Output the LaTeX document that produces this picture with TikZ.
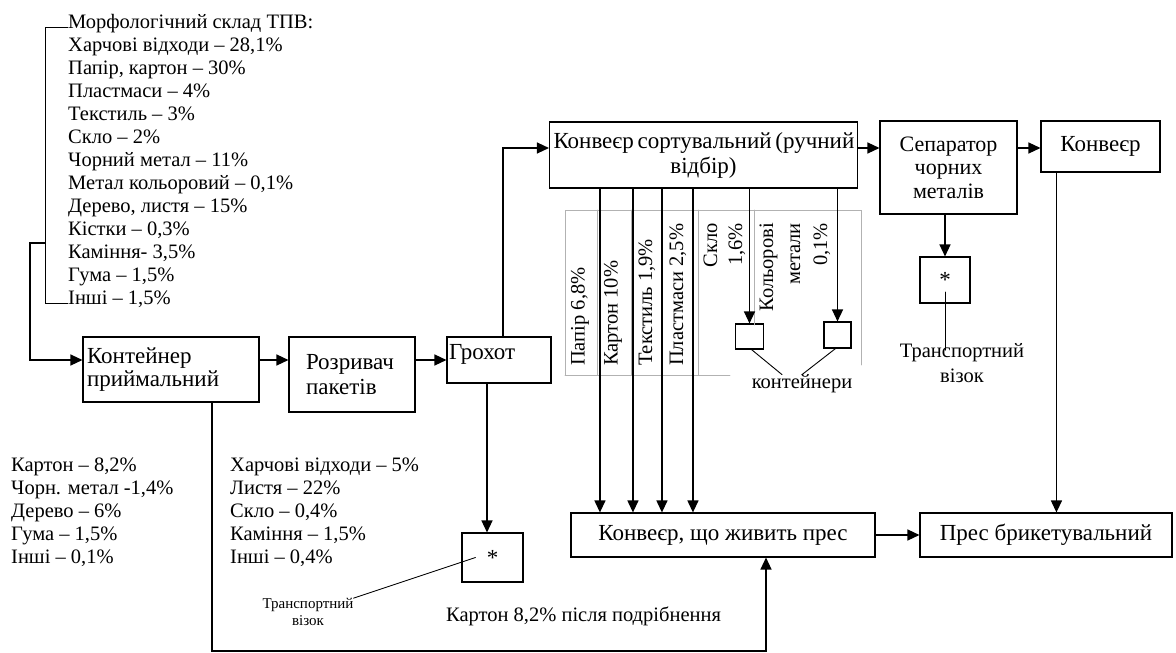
\documentclass[tikz,border=0pt]{standalone}
\usepackage{fontspec}
\setmainfont{Liberation Serif}
\usetikzlibrary{arrows.meta, positioning}

\begin{document}
\begin{tikzpicture}
% Style
[
    x=1pt, y=-1pt, line cap=round,
    every node/.style={font=\fontsize{20.5}{23}\selectfont, inner sep=0pt},
    block/.style={draw, line width=1.1pt, inner sep=4pt, font=\fontsize{23}{23}\selectfont},
    flow/.style={line width=1.3pt, -{Triangle[length=12pt,width=11pt]}},
    lead/.style={line width=0.9pt},
    cell/.style={draw=black!30, line width=0.8pt},
    vtext/.style={rotate=90},
    small text/.style={font=\fontsize{15}{17}\selectfont}
]

\useasboundingbox (0,0) rectangle (1176,653);

%================================== Blocks ==================================
{
    % Draw: reception line
    \node[block, minimum width=176pt, minimum height=65pt, text width=168pt, align=left] (cont) at (171,369.5) {Контейнер\\приймальний};
    \node[block, minimum width=126pt, minimum height=75pt, text width=92pt, align=left, font=\fontsize{23}{25}\selectfont] (rozr) at (352,374.5) {Розривач\\пакетів};
    \node[block, inner xsep=2pt, minimum width=104pt, minimum height=46pt, text width=100pt, align=left, text height=15pt, text depth=16pt] (hrokh) at (499,360) {Грохот};
    \node[block, minimum width=61pt, minimum height=49pt] (star1) at (492.5,557.5) {*};

    % Draw: sorting line
    \node[block, minimum width=307pt, minimum height=66pt, align=center, font=\fontsize{23}{25}\selectfont] (sort) at (703.5,155) {\makebox[300pt][s]{Конвеєр сортувальний (ручний}\\відбір)};
    \node[block, minimum width=137pt, minimum height=93pt, align=center, font=\fontsize{22}{23.5}\selectfont] (sep) at (948.5,167.5) {Сепаратор\\чорних\\металів};
    \node[block, minimum width=119pt, minimum height=51pt] (conv) at (1100.5,146.5) {Конвеєр};
    \node[block, minimum width=50pt, minimum height=46pt] (star2) at (945,280) {*};
    \node[block, minimum width=28pt, minimum height=25pt] (bin1) at (749.5,336.5) {};
    \node[block, minimum width=27pt, minimum height=26pt] (bin2) at (837.5,335) {};

    % Draw: press line
    \node[block, minimum width=304pt, minimum height=44pt] (feed) at (723,535) {Конвеєр, що живить прес};
    \node[block, minimum width=252pt, minimum height=44pt] (press) at (1046,535) {Прес брикетувальний};
}

%================================== Labels ==================================
{
    % Define: morphology of waste
    \foreach \txt [count=\i] in {{Морфологічний склад ТПВ:}, {Харчові відходи – 28,1\%}, {Папір, картон – 30\%},
        {Пластмаси – 4\%}, {Текстиль – 3\%}, {Скло – 2\%}, {Чорний метал – 11\%}, {Метал кольоровий – 0,1\%},
        {Дерево, листя – 15\%}, {Кістки – 0,3\%}, {Каміння- 3,5\%}, {Гума – 1,5\%}, {Інші – 1,5\%}} {
        \node[anchor=base west] (m\i) at (68, {28+23.04*(\i-1)}) {\txt};
    }

    % Define: left in the container
    \foreach \txt [count=\i] in {{Картон – 8,2\%}, {Чорн. метал -1,4\%}, {Дерево – 6\%}, {Гума – 1,5\%}, {Інші – 0,1\%}} {
        \node[anchor=base west] (k\i) at (11, {471+23*(\i-1)}) {\txt};
    }

    % Define: screened out
    \foreach \txt [count=\i] in {{Харчові відходи – 5\%}, {Листя – 22\%}, {Скло – 0,4\%}, {Каміння – 1,5\%}, {Інші – 0,4\%}} {
        \node[anchor=base west] (g\i) at (230, {471+23*(\i-1)}) {\txt};
    }

    % Draw: picked fractions
    \draw[cell] (565,375) -- (565,210) -- (861,210) -- (861,365);
    \draw[cell] (565,375) -- (730,375);
    \foreach \xc in {597, 631, 662, 698} {
        \draw[cell] (\xc,210) -- (\xc,375);
    }
    \draw[cell] (754,210) -- (754,325);

    \node[vtext, anchor=west] (v1) at (580,366) {Папір 6,8\%};
    \node[vtext, anchor=west] (v2) at (613,366) {Картон 10\%};
    \node[vtext, anchor=west] (v3) at (647,366) {Текстиль 1,9\%};
    \node[vtext, anchor=west] (v4) at (678,366) {Пластмаси 2,5\%};
    \node[vtext, anchor=east, align=right, font=\fontsize{20.5}{25}\selectfont] (v5) at (724.5,223) {Скло\\1,6\%};
    \node[vtext, anchor=east, align=right, font=\fontsize{20.5}{27}\selectfont] (v6) at (795,223) {Кольорові\\метали\\0,1\%};

    \node (bins) at (802,384) {контейнери};
    \node[align=center, font=\fontsize{20.5}{25}\selectfont] (vis2) at (962,363) {Транспортний\\візок};
    \node[small text, align=center] (vis1) at (308,612) {Транспортний\\візок};
    \node[anchor=base west] (rest) at (446,621) {Картон 8,2\% після подрібнення};
}

%================================= Connectors ================================
{
    \coordinate (lvl) at (0,148);
    \coordinate (loop) at (0,651);
    \coordinate (brk) at (45,243);

    % Draw: bracket of the list
    \draw[lead] ([yshift=1pt]m1.base west) -- ++(-23,0) |- ([yshift=1pt]m13.base west);
    \draw[flow] (brk) -- ++(-15,0) |- (cont.west |- hrokh.west);

    \draw[flow] (cont.east |- hrokh.west) -- (rozr.west |- hrokh.west);
    \draw[flow] (rozr.east |- hrokh.west) -- (hrokh.west);
    \draw[flow] ([xshift=-5.5pt]star1.north |- hrokh.south) -- ([xshift=-5.5pt]star1.north);
    \draw[lead] ([xshift=-17pt]star1.center) -- (vis1.north east);

    \draw[flow] ([xshift=4pt]hrokh.north) |- (sort.west |- lvl);
    \draw[flow] (sort.east |- lvl) -- (sep.west |- lvl);
    \draw[flow] (sep.east |- lvl) -- (conv.west |- lvl);
    \draw[flow] (sep.south -| star2.north) -- (star2.north);
    \draw[lead] ([yshift=-12pt]star2.center) -- ([yshift=-7pt]star2.center |- vis2.north);

    % Draw: hand picking
    \foreach \dx in {51, 84, 113, 144} {
        \draw[flow] ([xshift=\dx pt]sort.south west) -- ([xshift=\dx pt]sort.south west |- feed.north);
    }
    \draw[flow] (sort.south -| bin1.north) -- (bin1.north);
    \draw[flow] (sort.south -| bin2.north) -- (bin2.north);
    \draw[lead] ([xshift=2pt]bin1.south) -- ([xshift=-20pt]bins.north);
    \draw[lead] ([xshift=-2pt]bin2.south) -- (bins.north);

    \draw[flow] ([xshift=16pt]conv.south west) -- ([xshift=16pt]conv.south west |- press.north);
    \draw[flow] (feed.east) -- (press.west);
    \draw[flow] ([xshift=41pt]cont.south) |- ([xshift=43pt]feed.south |- loop) -- ([xshift=43pt]feed.south);
}
%==================================== END ====================================

\end{tikzpicture}
\end{document}
